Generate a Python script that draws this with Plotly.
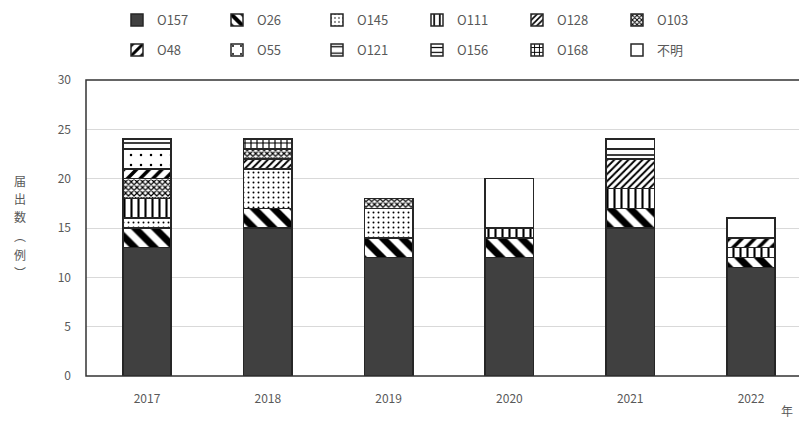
import plotly.graph_objects as go

years = ["2017", "2018", "2019", "2020", "2021", "2022"]

O157 = [13, 15, 12, 12, 15, 11]
O26 = [2, 2, 2, 2, 2, 1]
O145 = [1, 4, 3, 0, 0, 0]
O111 = [2, 0, 0, 1, 2, 1]
O128 = [0, 1, 0, 0, 3, 0]
O103 = [2, 1, 1, 0, 0, 0]
O48 = [1, 0, 0, 0, 0, 1]
O55 = [2, 0, 0, 0, 0, 0]
O121 = [0, 0, 0, 0, 0, 0]
O156 = [1, 0, 0, 0, 1, 0]
O168 = [0, 1, 0, 0, 0, 0]
unknown = [0, 0, 0, 5, 1, 2]

series = [
    ("O157", O157), ("O26", O26), ("O145", O145), ("O111", O111),
    ("O128", O128), ("O103", O103), ("O48", O48), ("O55", O55),
    ("O121", O121), ("O156", O156), ("O168", O168), ("不明", unknown),
]

ytitle_chars = ["届", "出", "数", "︵", "例", "︶"]

def pat(shape, size, solidity):
    return dict(shape=shape, size=size, solidity=solidity, fgcolor="black",
                bgcolor="white", fillmode="replace")

styles = {
    "O157": dict(color="#404040", pattern=dict(shape="")),
    "O26": dict(color="white", pattern=pat("\\", 14, 0.5)),
    "O145": dict(color="white", pattern=pat(".", 5, 0.12)),
    "O111": dict(color="white", pattern=pat("|", 7, 0.3)),
    "O128": dict(color="white", pattern=pat("/", 5, 0.4)),
    "O103": dict(color="white", pattern=pat("x", 4, 0.5)),
    "O48": dict(color="white", pattern=pat("/", 9, 0.4)),
    "O55": dict(color="white", pattern=pat(".", 10, 0.05)),
    "O121": dict(color="white", pattern=pat("-", 8, 0.2)),
    "O156": dict(color="white", pattern=pat("-", 6, 0.25)),
    "O168": dict(color="white", pattern=pat("+", 6, 0.35)),
    "不明": dict(color="white", pattern=dict(shape="")),
}

FONT = "Noto Sans CJK JP"
GREY = "#595959"

fig = go.Figure()
for i, (name, vals) in enumerate(series):
    st = styles[name]
    fig.add_trace(go.Bar(
        x=years,
        y=[v if v else None for v in vals],
        name=name,
        legend="legend" if i < 6 else "legend2",
        marker=dict(color=st["color"], pattern=st["pattern"],
                    line=dict(color="#262626", width=1.5)),
        width=0.4,
    ))

# page offset (body margin) compensation
OFF = 8
W, H = 807, 421
ml = 86 - OFF
mt = 80 - OFF
plot_bottom = 376 - OFF
mb = H - plot_bottom
pw = W - ml
ph = plot_bottom - mt

def py(wy):
    return (plot_bottom - (wy - OFF)) / ph

def px(wx):
    return (wx - OFF - ml) / pw

cat_w = 120.8
x0 = -0.505
x1 = x0 + pw / cat_w

legend_common = dict(
    orientation="h", entrywidth=55, entrywidthmode="pixels",
    font=dict(family=FONT, size=13, color=GREY),
    bgcolor="rgba(0,0,0,0)", xanchor="left", yanchor="middle",
    traceorder="normal", itemwidth=30,
)

annotations = []
ytitle_pos = [180, 198, 216, 236, 254, 272]
for ch, yy in zip(ytitle_chars, ytitle_pos):
    annotations.append(dict(text=ch, xref="paper", yref="paper", x=px(20), y=py(yy),
                            showarrow=False, xanchor="center", yanchor="middle",
                            font=dict(family=FONT, size=12, color=GREY)))
annotations.append(dict(text="年", xref="paper", yref="paper", x=px(787), y=py(410),
                        showarrow=False, xanchor="center", yanchor="middle",
                        font=dict(family=FONT, size=12, color=GREY)))

fig.update_layout(
    width=W, height=H,
    margin=dict(l=ml, r=0, t=mt, b=mb, autoexpand=False),
    barmode="stack",
    plot_bgcolor="white", paper_bgcolor="white",
    font=dict(family=FONT, size=12, color=GREY),
    legend=dict(**legend_common, x=px(117), y=py(20)),
    legend2=dict(**legend_common, x=px(117), y=py(50)),
    xaxis=dict(range=[x0, x1], showgrid=False, ticks="",
               tickfont=dict(family=FONT, size=12, color=GREY),
               ticklabelstandoff=14, zeroline=False),
    yaxis=dict(range=[0, 30], dtick=5, showgrid=True, gridcolor="#d9d9d9",
               gridwidth=1, ticks="", zeroline=False,
               tickfont=dict(family=FONT, size=12, color=GREY),
               ticklabelstandoff=14),
    shapes=[dict(type="rect", xref="paper", yref="paper", x0=0, x1=1.02,
                 y0=0, y1=1, line=dict(color="#333333", width=1.5),
                 fillcolor="rgba(0,0,0,0)", layer="above")],
    annotations=annotations,
)

fig.write_html("out.html")
